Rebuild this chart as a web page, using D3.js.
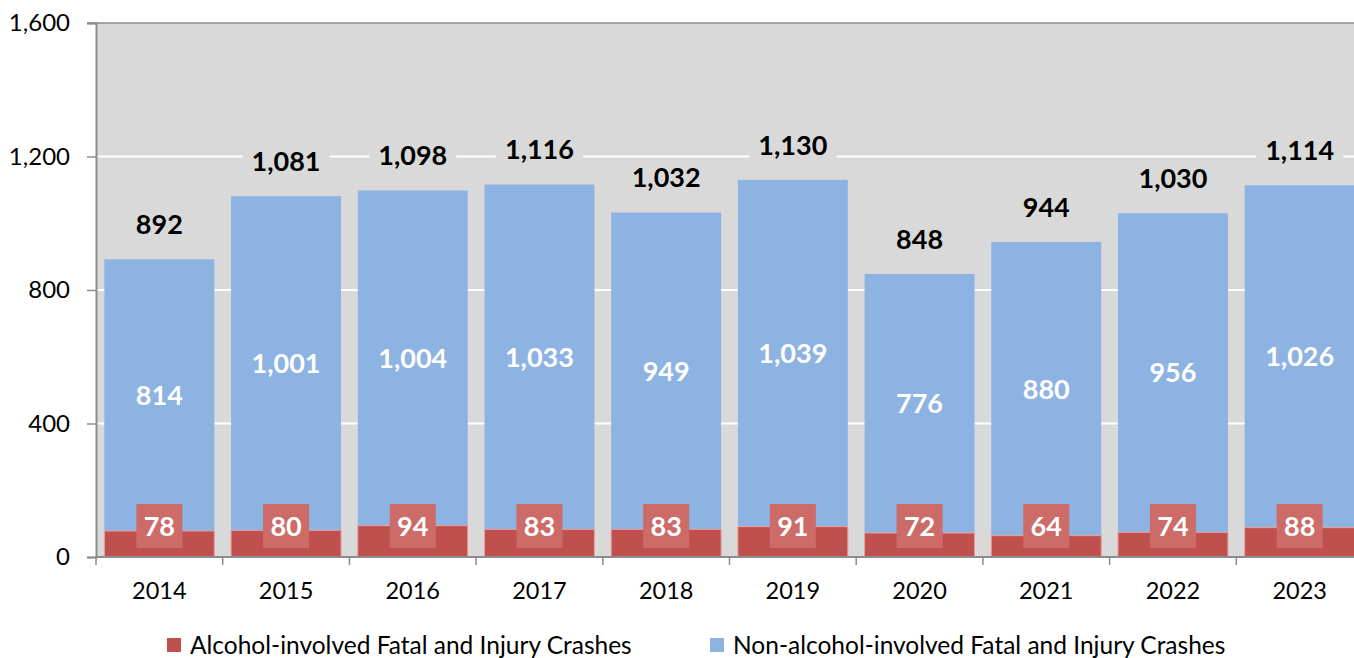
<!DOCTYPE html>
<head>
  <meta charset="utf-8">
  <script src="https://d3js.org/d3.v7.min.js"></script>
  <style>
    body { margin: 0; background: #fff; }
    svg { width: 1354px; height: 658px; display: block; font-family: Lato, 'Noto Sans', sans-serif; }
  </style>
</head>
<body>
  <svg></svg>
  <script>
    var years = ['2014', '2015', '2016', '2017', '2018', '2019', '2020', '2021', '2022', '2023'];
    var alcohol = [78, 80, 94, 83, 83, 91, 72, 64, 74, 88];
    var nonAlcohol = [814, 1001, 1004, 1033, 949, 1039, 776, 880, 956, 1026];
    var yTicks = [0, 400, 800, 1200, 1600];
    var seriesNames = ['Alcohol-involved Fatal and Injury Crashes', 'Non-alcohol-involved Fatal and Injury Crashes'];

    var red = '#c0504d', blue = '#8db3e2';
    var plotL = 96, plotR = 1363, plotT = 23, plotB = 557;
    var fmt = d3.format(',');

    var svg = d3.select('svg');

    var x = d3.scaleBand()
      .domain(years)
      .range([plotL, plotR])
      .paddingInner(0.132)
      .paddingOuter(0.066);
    var y = d3.scaleLinear()
      .domain([0, 1600])
      .range([plotB, plotT]);

    var rows = years.map(function(yr, i) {
      return {year: yr, a: alcohol[i], n: nonAlcohol[i], total: alcohol[i] + nonAlcohol[i]};
    });

    // plot background
    svg.append('rect')
      .attr('x', plotL).attr('y', plotT)
      .attr('width', plotR - plotL).attr('height', plotB - plotT)
      .attr('fill', '#d9d9d9');

    // gridlines
    svg.selectAll('line.grid')
      .data(yTicks.filter(function(d) { return d > 0 && d < 1600; }))
      .enter().append('line')
      .attr('x1', plotL).attr('x2', plotR)
      .attr('y1', function(d) { return y(d); })
      .attr('y2', function(d) { return y(d); })
      .attr('stroke', '#fff').attr('stroke-width', 2);

    svg.append('line')
      .attr('x1', plotL - 9).attr('x2', plotR)
      .attr('y1', y(1600)).attr('y2', y(1600))
      .attr('stroke', '#8c8c8c').attr('stroke-width', 1.5);

    // bars
    var bars = svg.selectAll('g.bar')
      .data(rows).enter().append('g')
      .attr('class', 'bar');

    bars.append('rect')
      .attr('x', function(d) { return x(d.year); })
      .attr('width', x.bandwidth())
      .attr('y', function(d) { return y(d.total); })
      .attr('height', function(d) { return y(d.a) - y(d.total); })
      .attr('fill', blue);

    bars.append('rect')
      .attr('x', function(d) { return x(d.year); })
      .attr('width', x.bandwidth())
      .attr('y', function(d) { return y(d.a); })
      .attr('height', function(d) { return y(0) - y(d.a); })
      .attr('fill', red)
      .attr('stroke', '#e8a3a1').attr('stroke-width', 1);

    // y axis
    var yAxis = svg.append('g')
      .attr('transform', 'translate(' + plotL + ',0)')
      .call(d3.axisLeft(y).tickValues(yTicks).tickFormat(fmt).tickSize(9).tickPadding(17));
    yAxis.select('.domain').attr('stroke', '#8c8c8c').attr('stroke-width', 2);
    yAxis.selectAll('.tick line').attr('stroke', '#8c8c8c').attr('stroke-width', 1.5);
    yAxis.selectAll('.tick text').attr('font-size', 24).attr('fill', '#000')
      .attr('font-family', 'Lato, sans-serif');

    // x axis
    var xAxis = svg.append('g')
      .attr('transform', 'translate(0,' + plotB + ')');
    xAxis.append('line')
      .attr('x1', plotL).attr('x2', plotR)
      .attr('stroke', '#8c8c8c').attr('stroke-width', 2);
    xAxis.selectAll('line.tick')
      .data(d3.range(years.length + 1)).enter().append('line')
      .attr('x1', function(i) { return plotL + i * x.step(); })
      .attr('x2', function(i) { return plotL + i * x.step(); })
      .attr('y1', 0).attr('y2', 8)
      .attr('stroke', '#8c8c8c').attr('stroke-width', 1.5);
    xAxis.selectAll('text')
      .data(years).enter().append('text')
      .attr('x', function(d) { return x(d) + x.bandwidth() / 2; })
      .attr('y', 42)
      .attr('text-anchor', 'middle')
      .attr('font-size', 23.5)
      .text(function(d) { return d; });

    // total labels (with background hiding gridlines)
    var totals = bars.append('g')
      .attr('transform', function(d) {
        return 'translate(' + (x(d.year) + x.bandwidth() / 2) + ',' + (y(d.total) - 35) + ')';
      });
    totals.append('text')
      .attr('text-anchor', 'middle')
      .attr('dy', '0.36em')
      .attr('font-size', 27).attr('font-weight', 'bold')
      .text(function(d) { return fmt(d.total); })
      .each(function() {
        var b = this.getBBox();
        d3.select(this.parentNode).insert('rect', 'text')
          .attr('x', b.x - 9).attr('y', b.y - 2)
          .attr('width', b.width + 18).attr('height', b.height + 4)
          .attr('fill', '#d9d9d9');
      });

    // non-alcohol labels
    bars.append('text')
      .attr('x', function(d) { return x(d.year) + x.bandwidth() / 2; })
      .attr('y', function(d) { return (y(d.total) + y(d.a)) / 2; })
      .attr('dy', '0.36em')
      .attr('text-anchor', 'middle')
      .attr('font-size', 27).attr('font-weight', 'bold')
      .attr('fill', '#fff')
      .text(function(d) { return fmt(d.n); });

    // alcohol labels in boxes
    var aLab = bars.append('g')
      .attr('transform', function(d) {
        return 'translate(' + (x(d.year) + x.bandwidth() / 2) + ',' + (plotB - 31) + ')';
      });
    aLab.append('rect')
      .attr('x', -23).attr('y', -22)
      .attr('width', 46).attr('height', 44)
      .attr('fill', '#cd6b68');
    aLab.append('text')
      .attr('text-anchor', 'middle')
      .attr('dy', '0.36em')
      .attr('font-size', 27).attr('font-weight', 'bold')
      .attr('fill', '#fff')
      .text(function(d) { return d.a; });

    // legend
    var legend = svg.selectAll('g.legend')
      .data(seriesNames).enter().append('g')
      .attr('class', 'legend')
      .attr('transform', function(d, i) { return 'translate(' + (i === 0 ? 167 : 710) + ',638)'; });
    legend.append('rect')
      .attr('width', 14).attr('height', 14)
      .attr('fill', function(d, i) { return i === 0 ? red : blue; });
    legend.append('text')
      .attr('x', 23).attr('y', 16)
      .attr('font-size', 24.5)
      .text(function(d) { return d; });
  </script>
</body>
